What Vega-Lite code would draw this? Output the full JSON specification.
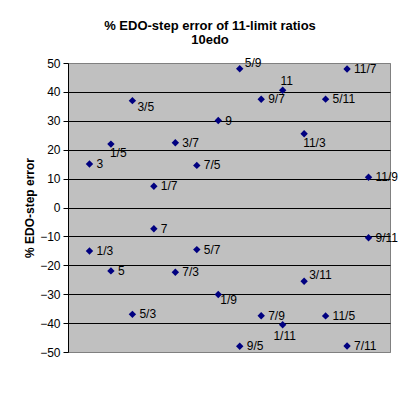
{
  "$schema": "https://vega.github.io/schema/vega-lite/v6.json",
  "width": 322,
  "height": 289,
  "autosize": {"type": "none"},
  "padding": {"left": 68, "top": 63, "right": 30, "bottom": 47},
  "background": "white",
  "title": {
    "text": ["% EDO-step error of 11-limit ratios", "10edo"],
    "font": "Liberation Sans",
    "fontSize": 13,
    "fontWeight": "bold",
    "color": "black",
    "anchor": "middle",
    "dx": -19,
    "lineHeight": 13.5,
    "offset": 10
  },
  "config": {
    "view": {"fill": "#C0C0C0", "stroke": "#808080", "strokeWidth": 1},
    "font": "Liberation Sans"
  },
  "data": {
    "values": [
      {"ratio": "3", "col": 1, "error": 15.04},
      {"ratio": "1/3", "col": 1, "error": -15.04},
      {"ratio": "1/5", "col": 2, "error": 21.93},
      {"ratio": "5", "col": 2, "error": -21.93},
      {"ratio": "3/5", "col": 3, "error": 36.97},
      {"ratio": "5/3", "col": 3, "error": -36.97},
      {"ratio": "1/7", "col": 4, "error": 7.36},
      {"ratio": "7", "col": 4, "error": -7.36},
      {"ratio": "3/7", "col": 5, "error": 22.39},
      {"ratio": "7/3", "col": 5, "error": -22.39},
      {"ratio": "7/5", "col": 6, "error": 14.57},
      {"ratio": "5/7", "col": 6, "error": -14.57},
      {"ratio": "9", "col": 7, "error": 30.08},
      {"ratio": "1/9", "col": 7, "error": -30.08},
      {"ratio": "5/9", "col": 8, "error": 48.0},
      {"ratio": "9/5", "col": 8, "error": -48.0},
      {"ratio": "9/7", "col": 9, "error": 37.43},
      {"ratio": "7/9", "col": 9, "error": -37.43},
      {"ratio": "11", "col": 10, "error": 40.57},
      {"ratio": "1/11", "col": 10, "error": -40.57},
      {"ratio": "11/3", "col": 11, "error": 25.53},
      {"ratio": "3/11", "col": 11, "error": -25.53},
      {"ratio": "5/11", "col": 12, "error": 37.5},
      {"ratio": "11/5", "col": 12, "error": -37.5},
      {"ratio": "11/7", "col": 13, "error": 47.92},
      {"ratio": "7/11", "col": 13, "error": -47.92},
      {"ratio": "11/9", "col": 14, "error": 10.49},
      {"ratio": "9/11", "col": 14, "error": -10.49}
    ]
  },
  "encoding": {
    "x": {
      "field": "col",
      "type": "quantitative",
      "scale": {"domain": [0, 15], "nice": false, "zero": false},
      "axis": null
    },
    "y": {
      "field": "error",
      "type": "quantitative",
      "scale": {"domain": [-50, 50], "nice": false},
      "axis": {
        "title": "% EDO-step error",
        "titleFont": "Liberation Sans",
        "titleFontSize": 12,
        "titleFontWeight": "bold",
        "titleColor": "black",
        "titlePadding": 3,
        "values": [-50, -40, -30, -20, -10, 0, 10, 20, 30, 40, 50],
        "labelFont": "Liberation Sans",
        "labelFontSize": 12,
        "labelColor": "black",
        "labelPadding": 3,
        "tickSize": 5,
        "tickColor": "black",
        "domainColor": "black",
        "grid": true,
        "gridColor": {"condition": {"test": "abs(datum.value) == 50", "value": "#808080"}, "value": "black"},
        "gridOpacity": 1,
        "gridWidth": 1
      }
    }
  },
  "layer": [
    {
      "mark": {"type": "point", "shape": "diamond", "filled": true, "color": "#000080", "size": 55, "opacity": 1}
    },
    {
      "transform": [{"filter": {"not": {"field": "ratio", "oneOf": ["1/5", "11/3", "5/9", "3/11", "3/5", "1/9", "11", "1/11"]}}}],
      "mark": {"type": "text", "align": "left", "baseline": "middle", "dx": 7, "fontSize": 12, "font": "Liberation Sans", "color": "black"},
      "encoding": {"text": {"field": "ratio"}}
    },
    {
      "transform": [{"filter": {"field": "ratio", "oneOf": ["1/5", "11/3"]}}],
      "mark": {"type": "text", "align": "left", "baseline": "middle", "dx": -1, "dy": 9, "fontSize": 12, "font": "Liberation Sans", "color": "black"},
      "encoding": {"text": {"field": "ratio"}}
    },
    {
      "transform": [{"filter": {"field": "ratio", "oneOf": ["5/9", "3/11"]}}],
      "mark": {"type": "text", "align": "left", "baseline": "middle", "dx": 5, "dy": -6, "fontSize": 12, "font": "Liberation Sans", "color": "black"},
      "encoding": {"text": {"field": "ratio"}}
    },
    {
      "transform": [{"filter": {"field": "ratio", "oneOf": ["3/5"]}}],
      "mark": {"type": "text", "align": "left", "baseline": "middle", "dx": 5, "dy": 6, "fontSize": 12, "font": "Liberation Sans", "color": "black"},
      "encoding": {"text": {"field": "ratio"}}
    },
    {
      "transform": [{"filter": {"field": "ratio", "oneOf": ["1/9"]}}],
      "mark": {"type": "text", "align": "left", "baseline": "middle", "dx": 2, "dy": 6, "fontSize": 12, "font": "Liberation Sans", "color": "black"},
      "encoding": {"text": {"field": "ratio"}}
    },
    {
      "transform": [{"filter": {"field": "ratio", "oneOf": ["11"]}}],
      "mark": {"type": "text", "align": "center", "baseline": "middle", "dx": 4, "dy": -9.5, "fontSize": 12, "font": "Liberation Sans", "color": "black"},
      "encoding": {"text": {"field": "ratio"}}
    },
    {
      "transform": [{"filter": {"field": "ratio", "oneOf": ["1/11"]}}],
      "mark": {"type": "text", "align": "center", "baseline": "middle", "dx": 2, "dy": 11, "fontSize": 12, "font": "Liberation Sans", "color": "black"},
      "encoding": {"text": {"field": "ratio"}}
    }
  ]
}
